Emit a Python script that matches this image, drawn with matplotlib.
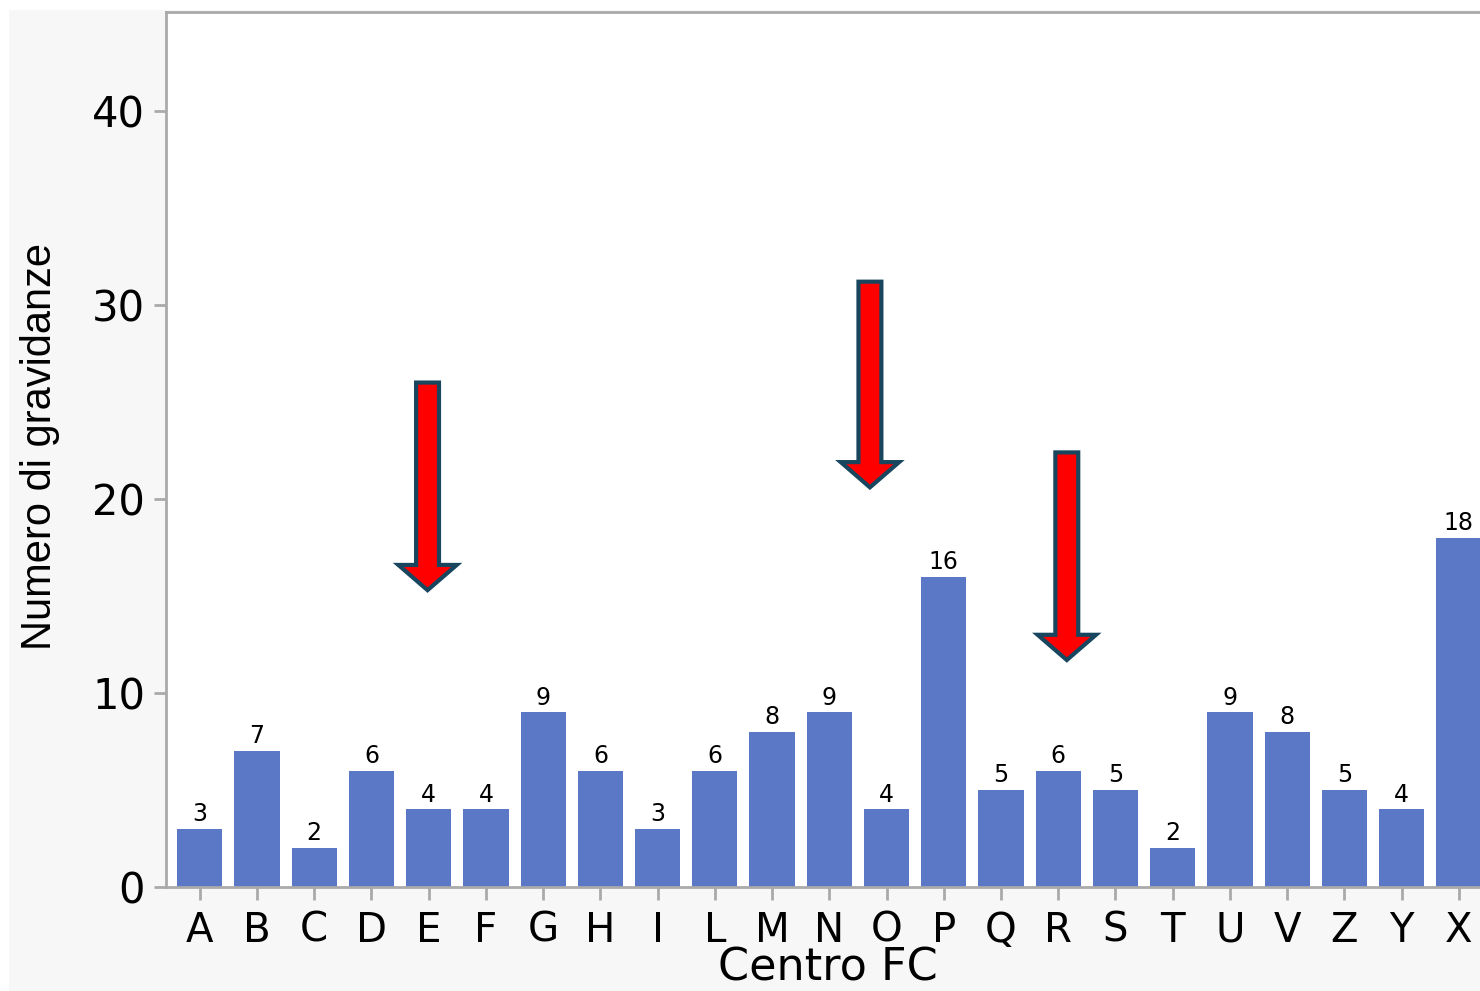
import matplotlib.pyplot as plt
import matplotlib.patches as mpatches

centri = ["A", "B", "C", "D", "E", "F", "G", "H", "I", "L", "M", "N",
          "O", "P", "Q", "R", "S", "T", "U", "V", "Z", "Y", "X"]
gravidanze = [3, 7, 2, 6, 4, 4, 9, 6, 3, 6, 8, 9, 4, 16, 5, 6, 5, 2, 9, 8, 5, 4, 18]

# red arrows: x position (category units), top and tip (y units)
frecce_x = [3.98, 11.71, 15.15]
frecce_top = [26.0, 31.2, 22.4]
frecce_tip = [15.3, 20.6, 11.7]

plt.rcParams['font.family'] = ['DejaVu Sans']

fig = plt.figure(figsize=(14.8, 9.91), dpi=100)
fig.patch.set_facecolor('white')
# light gray background with a thin white border top/left
fig.patches.append(mpatches.Rectangle((9 / 1480, 0), 1, 1 - 10 / 991,
                                      transform=fig.transFigure,
                                      facecolor='#f7f7f7', edgecolor='none', zorder=-5))

ax = fig.add_axes([166 / 1480, 1 - 887 / 991, 1 - 166 / 1480, (887 - 12) / 991])
ax.set_facecolor('white')

x = list(range(len(centri)))
ax.bar(x, gravidanze, width=0.79, color='#5a78c5', zorder=2)
for xi, v in zip(x, gravidanze):
    ax.text(xi, v + 0.4, str(v), ha='center', va='baseline', fontsize=17, color='black')

for fx, top, tip in zip(frecce_x, frecce_top, frecce_tip):
    arr = mpatches.FancyArrow(fx, top, 0, tip - top, width=0.40, head_width=1.02,
                              head_length=1.3, length_includes_head=True,
                              facecolor='#ff0000', edgecolor='#17465e', linewidth=3,
                              zorder=3)
    ax.add_patch(arr)

ax.set_xlim(-0.59, 22.37)
ax.set_ylim(0, 45.1)
ax.set_yticks([0, 10, 20, 30, 40])
ax.set_xticks(x)
ax.set_xticklabels(centri)

for s in ['left', 'top', 'bottom']:
    ax.spines[s].set_color('#aaaaaa')
    ax.spines[s].set_linewidth(2)
ax.spines['right'].set_visible(False)

ax.tick_params(axis='both', colors='#aaaaaa', width=2, length=9, labelcolor='black')
ax.tick_params(axis='y', labelsize=30, pad=6)
ax.tick_params(axis='x', labelsize=29, pad=8)

ax.set_xlabel("Centro FC", fontsize=32, va='baseline')
ax.xaxis.set_label_coords(0.504, -0.107)
ax.set_ylabel("Numero di gravidanze", fontsize=30, family='Liberation Sans', va='center')
ax.yaxis.set_label_coords(-0.096, 0.503)

fig.savefig("out.png", dpi=100, facecolor=fig.get_facecolor())
